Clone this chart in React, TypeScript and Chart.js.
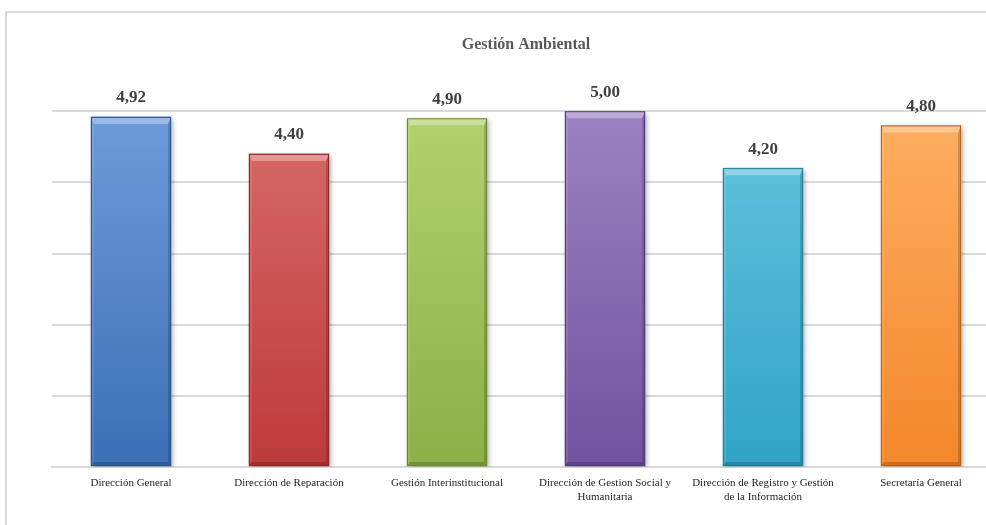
import React, { useEffect, useRef } from "react";
import { Chart, registerables } from "chart.js";

Chart.register(...registerables);

const title = "Gestión Ambiental";
const categories: (string | string[])[] = [
  "Dirección General",
  "Dirección de Reparación",
  "Gestión Interinstitucional",
  ["Dirección de Gestion Social y", "Humanitaria"],
  ["Dirección de Registro y Gestión", "de la Información"],
  "Secretaría General",
];
const values = [4.92, 4.4, 4.9, 5.0, 4.2, 4.8];
const topColors = ["#6e9bd9", "#d86c6a", "#b2d26e", "#9b82c3", "#66c4de", "#fdaf62"];
const bottomColors = ["#3b6fb6", "#bd3a3a", "#8bb048", "#71529e", "#30a4c6", "#f4872a"];
const edgeColors = ["#2d568c", "#8f2b2a", "#6a8a34", "#553d7a", "#237f9b", "#b9641c"];
const yMax = 5;
const yStep = 1;

const fmt = (v: number) => v.toFixed(2).replace(".", ",");

const bevelPlugin = {
  id: "bevel",
  beforeDatasetsDraw(chart: any) {
    const c = chart.ctx;
    c.save();
    c.shadowColor = "rgba(0,0,0,0.35)";
    c.shadowBlur = 5;
    c.shadowOffsetX = 2;
    c.shadowOffsetY = 2;
  },
  afterDatasetsDraw(chart: any) {
    const c = chart.ctx;
    c.restore();
    const meta = chart.getDatasetMeta(0);
    meta.data.forEach((bar: any, i: number) => {
      const w = bar.width;
      const l = bar.x - w / 2;
      const r = bar.x + w / 2;
      const t = bar.y;
      const b = bar.base;
      const bt = 7;
      const bs = 3;
      const bb = 4;
      const poly = (pts: number[][], fill: string) => {
        c.beginPath();
        c.moveTo(pts[0][0], pts[0][1]);
        for (let k = 1; k < pts.length; k++) c.lineTo(pts[k][0], pts[k][1]);
        c.closePath();
        c.fillStyle = fill;
        c.fill();
      };
      c.save();
      poly([[l, t], [r, t], [r - bs, t + bt], [l + bs, t + bt]], "rgba(255,255,255,0.32)");
      poly([[l, t], [l + bs, t + bt], [l + bs, b - bb], [l, b]], "rgba(255,255,255,0.10)");
      poly([[r, t], [r - bs, t + bt], [r - bs, b - bb], [r, b]], "rgba(0,0,0,0.16)");
      poly([[l, b], [l + bs, b - bb], [r - bs, b - bb], [r, b]], "rgba(0,0,0,0.18)");
      c.strokeStyle = edgeColors[i];
      c.lineWidth = 1;
      c.strokeRect(l + 0.5, t + 0.5, w - 1, b - t - 1);
      c.restore();

      // value label above the bar
      c.save();
      c.font = "bold 17px 'Liberation Serif', serif";
      c.fillStyle = "#404040";
      c.textAlign = "center";
      c.textBaseline = "middle";
      c.fillText(fmt(values[i]), bar.x, t - 19);
      c.restore();
    });
  },
};

export default function App() {
  const ref = useRef<HTMLCanvasElement | null>(null);

  useEffect(() => {
    if (!ref.current) return;
    const chart = new Chart(ref.current, {
      type: "bar",
      data: {
        labels: categories,
        datasets: [
          {
            data: values,
            backgroundColor: (ctx: any) => {
              const ch = ctx.chart;
              const y = ch.scales?.y;
              const i = ctx.dataIndex ?? 0;
              if (!ch.chartArea || !y) return bottomColors[i];
              const y0 = y.getPixelForValue(yMax);
              const y1 = y.getPixelForValue(0);
              if (!Number.isFinite(y0) || !Number.isFinite(y1) || y0 === y1) return bottomColors[i];
              const g = ch.ctx.createLinearGradient(0, y0, 0, y1);
              g.addColorStop(0, topColors[i]);
              g.addColorStop(1, bottomColors[i]);
              return g;
            },
            borderWidth: 0,
            barThickness: 80,
          },
        ],
      },
      options: {
        responsive: false,
        animation: false,
        devicePixelRatio: 1,
        layout: { padding: { left: 52, right: 10, top: 0, bottom: 0 } },
        plugins: {
          legend: { display: false },
          tooltip: { enabled: false },
          title: {
            display: true,
            text: title,
            color: "#595959",
            font: { family: "'Liberation Serif', serif", size: 16, weight: "bold" },
            padding: { top: 35, bottom: 57 },
          },
        },
        scales: {
          x: {
            grid: { display: false, drawTicks: false },
            border: { display: true, color: "#d9d9d9", width: 2 },
            ticks: {
              color: "#262626",
              font: { family: "'Liberation Serif', serif", size: 11 },
              padding: 10,
              autoSkip: false,
              maxRotation: 0,
              minRotation: 0,
            },
            afterFit: (s: any) => {
              s.height = 58;
            },
          },
          y: {
            min: 0,
            max: yMax,
            ticks: { display: false, stepSize: yStep },
            grid: { color: "#d9d9d9", lineWidth: 2, drawTicks: false },
            border: { display: false },
            afterFit: (s: any) => {
              s.width = 0;
            },
          },
        },
      },
      plugins: [bevelPlugin],
    });
    return () => chart.destroy();
  }, []);

  return (
    <div
      style={{
        position: "absolute",
        left: 0,
        top: 0,
        width: 986,
        height: 525,
        overflow: "hidden",
        background: "#ffffff",
      }}
    >
      <div
        style={{
          position: "absolute",
          left: 5,
          top: 11,
          width: 1100,
          height: 600,
          borderLeft: "2px solid #d9d9d9",
          borderTop: "2px solid #d9d9d9",
        }}
      />
      <canvas
        ref={ref}
        width={1010}
        height={525}
        style={{ position: "absolute", left: 0, top: 0 }}
      />
    </div>
  );
}
